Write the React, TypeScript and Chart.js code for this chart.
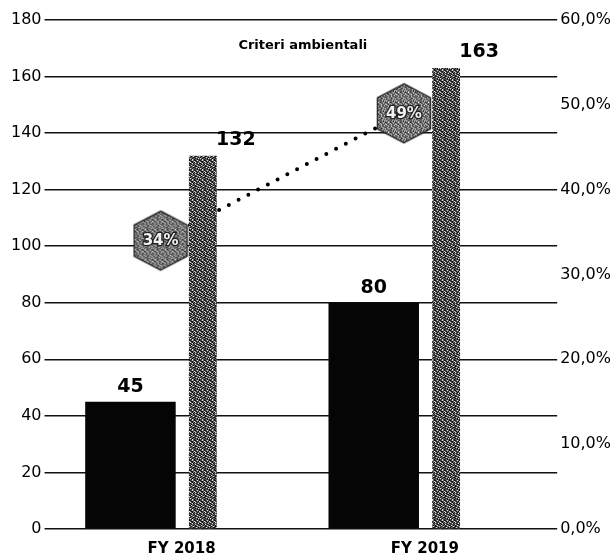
import React, { useEffect, useRef } from "react";
import { Chart, registerables } from "chart.js";

Chart.register(...registerables);

// ---- data ----
const categories = ["FY 2018", "FY 2019"];
const solidSeries = [45, 80];
const texturedSeries = [132, 163];
const percentSeries = [34, 49];
const leftAxis = { min: 0, max: 180, step: 20 };
const rightAxis = { min: 0, max: 60, step: 10 };
const chartTitle = "Criteri ambientali";

const FONT = "'DejaVu Sans', 'Liberation Sans', Arial, sans-serif";

// texture map: d = dark, l = light, . = mid grey
const TEXTURE_MAP = [
  "d.l.dd.l.d",
  ".dd.l.d.dl",
  "l.d.dl.d..",
  "d.ld..d.ld",
  ".d..dl.dd.",
  "dl.d.d.l.d",
  ".d.l.dd..l",
  "d..dd.l.d.",
  "l.d..d.dl.",
  ".dl.d..d.d",
];

function makeTexture(base: string, dark: string, light: string): CanvasPattern | string {
  const n = TEXTURE_MAP.length;
  const c = document.createElement("canvas");
  c.width = n;
  c.height = n;
  const g = c.getContext("2d");
  if (!g) return base;
  g.fillStyle = base;
  g.fillRect(0, 0, n, n);
  TEXTURE_MAP.forEach((row, y) => {
    row.split("").forEach((ch, x) => {
      if (ch === "d") {
        g.fillStyle = dark;
        g.fillRect(x, y, 1, 1);
      } else if (ch === "l") {
        g.fillStyle = light;
        g.fillRect(x, y, 1, 1);
      }
    });
  });
  return g.createPattern(c, "repeat") || base;
}

function makeHexagon(fill: CanvasPattern | string): HTMLCanvasElement {
  const w = 56;
  const h = 62;
  const c = document.createElement("canvas");
  c.width = w;
  c.height = h;
  const g = c.getContext("2d");
  if (!g) return c;
  const i = 1.5;
  g.beginPath();
  g.moveTo(w / 2, i);
  g.lineTo(w - i, h / 4);
  g.lineTo(w - i, (3 * h) / 4);
  g.lineTo(w / 2, h - i);
  g.lineTo(i, (3 * h) / 4);
  g.lineTo(i, h / 4);
  g.closePath();
  g.fillStyle = fill as any;
  g.fill();
  g.lineWidth = 1.5;
  g.strokeStyle = "#2a2a2a";
  g.stroke();
  return c;
}

const labelPlugin = {
  id: "valueLabels",
  afterDatasetsDraw(chart: any) {
    const ctx = chart.ctx;
    const area = chart.chartArea;
    ctx.save();
    ctx.fillStyle = "#000";
    ctx.font = `bold 13px ${FONT}`;
    ctx.textAlign = "center";
    ctx.textBaseline = "middle";
    ctx.fillText(chartTitle, (area.left + area.right) / 2 - 3, area.top + 26);

    ctx.font = `bold 19px ${FONT}`;
    ctx.textBaseline = "alphabetic";
    chart.getDatasetMeta(0).data.forEach((el: any, j: number) => {
      ctx.fillText(String(solidSeries[j]), el.x, el.y - 10);
    });
    chart.getDatasetMeta(1).data.forEach((el: any, j: number) => {
      ctx.fillText(String(texturedSeries[j]), el.x + 33, el.y - 11);
    });
    ctx.font = `bold 15px ${FONT}`;
    ctx.textBaseline = "middle";
    ctx.lineWidth = 2.5;
    ctx.strokeStyle = "#222";
    ctx.fillStyle = "#f2f2f2";
    chart.getDatasetMeta(2).data.forEach((el: any, j: number) => {
      const t = `${percentSeries[j]}%`;
      ctx.strokeText(t, el.x, el.y + 1);
      ctx.fillText(t, el.x, el.y + 1);
    });
    ctx.restore();
  },
};

export default function App() {
  const ref = useRef<HTMLCanvasElement | null>(null);

  useEffect(() => {
    if (!ref.current) return;
    const barTexture = makeTexture("#5e5e5e", "#151515", "#d8d8d8");
    const hexTexture = makeTexture("#8a8a8a", "#2a2a2a", "#eeeeee");
    const hex = makeHexagon(hexTexture);

    const chart = new Chart(ref.current, {
      type: "bar",
      data: {
        datasets: [
          {
            type: "bar",
            label: "A",
            data: categories.map((_, i) => ({ x: i, y: solidSeries[i] })),
            backgroundColor: "#050505",
            borderWidth: 0,
            categoryPercentage: 0.496,
            barPercentage: 1.5,
            yAxisID: "y",
            order: 1,
          } as any,
          {
            type: "bar",
            label: "B",
            data: categories.map((_, i) => ({ x: i, y: texturedSeries[i] })),
            backgroundColor: barTexture as any,
            borderWidth: 0,
            categoryPercentage: 0.694,
            barPercentage: 0.33,
            yAxisID: "y",
            order: 1,
          } as any,
          {
            type: "line",
            label: "%",
            data: categories.map((_, i) => ({ x: i, y: percentSeries[i] })),
            yAxisID: "y1",
            borderColor: "#000",
            borderWidth: 4,
            borderDash: [0, 11],
            borderCapStyle: "round",
            pointStyle: hex as any,
            pointRadius: 28,
            order: 2,
          } as any,
        ],
      },
      options: {
        responsive: false,
        animation: false,
        layout: { autoPadding: false, padding: { left: 8, top: 20, right: 0, bottom: -14 } },
        plugins: {
          legend: { display: false },
          tooltip: { enabled: false },
          title: { display: false },
        },
        scales: {
          x: {
            type: "linear",
            offset: false,
            min: -0.436,
            max: 1.63,
            grid: { display: false, drawTicks: false },
            border: { display: false },
            afterBuildTicks: (scale: any) => {
              scale.ticks = categories.map((_, i) => ({ value: i }));
            },
            ticks: {
              callback: (v: any) => categories[v] ?? "",
              color: "#000",
              font: { family: FONT, size: 15, weight: "bold", lineHeight: 1 },
              padding: 13,
              labelOffset: 21,
              maxRotation: 0,
              autoSkip: false,
            },
          },
          y: {
            position: "left",
            min: leftAxis.min,
            max: leftAxis.max,
            grid: { color: "#111", lineWidth: 1.5, drawTicks: true, tickLength: 10 },
            border: { display: false },
            ticks: {
              stepSize: leftAxis.step,
              color: "#000",
              padding: 3,
              font: { family: FONT, size: 16 },
            },
          },
          y1: {
            position: "right",
            min: rightAxis.min,
            max: rightAxis.max,
            grid: { display: false, drawTicks: false },
            border: { display: false },
            ticks: {
              stepSize: rightAxis.step,
              color: "#000",
              padding: 3,
              font: { family: FONT, size: 16 },
              callback: (v: any) => `${Number(v).toFixed(1).replace(".", ",")}%`,
            },
          },
        },
      } as any,
      plugins: [labelPlugin],
    });
    return () => chart.destroy();
  }, []);

  return (
    <div style={{ position: "fixed", left: 0, top: 0, width: 614, height: 556, background: "#fff" }}>
      <canvas ref={ref} width={614} height={556} style={{ display: "block" }} />
    </div>
  );
}
